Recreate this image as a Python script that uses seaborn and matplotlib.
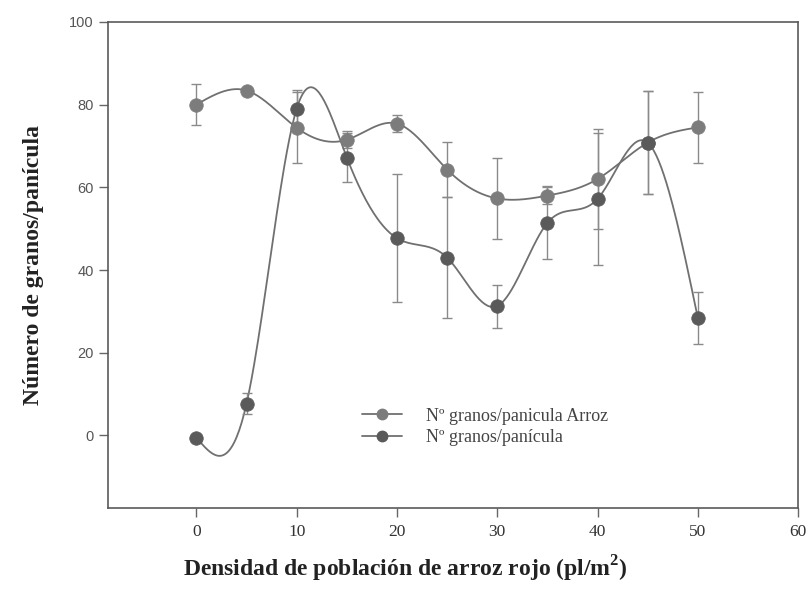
import numpy as np
import pandas as pd
import matplotlib
matplotlib.use("Agg")
import matplotlib.pyplot as plt
from matplotlib.lines import Line2D
import seaborn as sns

# ---- data ----
densidad = [0, 5, 10, 15, 20, 25, 30, 35, 40, 45, 50]
arroz_vals = [80.0, 83.4, 74.4, 71.5, 75.4, 64.3, 57.3, 58.0, 62.0, 70.8, 74.5]
arroz_err = [5.0, 0.0, 8.6, 2.0, 2.0, 6.7, 9.8, 2.0, 12.0, 12.4, 8.6]
panicula_vals = [-0.5, 7.7, 79.0, 67.2, 47.7, 43.0, 31.3, 51.4, 57.2, 70.8, 28.4]
panicula_err = [0.0, 2.5, 4.6, 6.0, 15.5, 14.6, 5.2, 8.8, 16.0, 12.4, 6.4]
label_arroz = "Nº granos/panicula Arroz"
label_panicula = "Nº granos/panícula"
xticks = [0, 10, 20, 30, 40, 50, 60]
yticks = [0, 20, 40, 60, 80, 100]


def natural_spline(x, y, n=400):
    x = np.asarray(x, float)
    y = np.asarray(y, float)
    m = len(x)
    h = np.diff(x)
    A = np.zeros((m, m))
    b = np.zeros(m)
    A[0, 0] = A[-1, -1] = 1
    for i in range(1, m - 1):
        A[i, i - 1] = h[i - 1]
        A[i, i] = 2 * (h[i - 1] + h[i])
        A[i, i + 1] = h[i]
        b[i] = 3 * ((y[i + 1] - y[i]) / h[i] - (y[i] - y[i - 1]) / h[i - 1])
    c = np.linalg.solve(A, b)
    xs = np.linspace(x[0], x[-1], n)
    idx = np.clip(np.searchsorted(x, xs) - 1, 0, m - 2)
    bb = (y[1:] - y[:-1]) / h - h * (2 * c[:-1] + c[1:]) / 3
    d = (c[1:] - c[:-1]) / (3 * h)
    t = xs - x[idx]
    ys = y[idx] + bb[idx] * t + c[idx] * t ** 2 + d[idx] * t ** 3
    return xs, ys


sns.set_style("ticks")
plt.rcParams["font.family"] = ["Liberation Serif", "DejaVu Serif"]
plt.rcParams["mathtext.fontset"] = "custom"
plt.rcParams["mathtext.rm"] = "Liberation Serif"
plt.rcParams["mathtext.bf"] = "Liberation Serif:bold"

fig = plt.figure(figsize=(8.07, 5.91), dpi=100)
ax = fig.add_axes([0.134, 0.140, 0.855, 0.823])

series = [
    (label_arroz, arroz_vals, arroz_err, "#7c7c7c"),
    (label_panicula, panicula_vals, panicula_err, "#5a5a5a"),
]
line_col = "#707070"
handles = []
for lab, vals, err, col in series:
    xs, ys = natural_spline(densidad, vals)
    sns.lineplot(x=xs, y=ys, ax=ax, color=line_col, lw=1.3, sort=False)
    ax.errorbar(densidad, vals, yerr=err, fmt="none", ecolor="#8a8a8a",
                elinewidth=1.0, capsize=3.5, capthick=1.0, zorder=2)
    df = pd.DataFrame({"x": densidad, "y": vals})
    sns.scatterplot(data=df, x="x", y="y", ax=ax, color=col, s=95,
                    edgecolor=col, linewidth=0.5, zorder=3)
    handles.append(Line2D([0], [0], color=line_col, lw=1.3, marker="o",
                          markersize=7.5, markerfacecolor=col, markeredgecolor=col))

ax.set_xlim(-8.8, 60)
ax.set_ylim(-17.6, 100)
ax.set_xticks(xticks)
ax.set_yticks(yticks)
ax.tick_params(axis="both", direction="out", length=6.5, width=1, color="#666666")
ax.tick_params(axis="x", labelsize=12.5, labelcolor="#333333", pad=5)
ax.tick_params(axis="y", labelsize=10.5, labelcolor="#555555", pad=4)
for t in ax.get_yticklabels():
    t.set_fontfamily(["Liberation Sans", "DejaVu Sans"])
for sp in ax.spines.values():
    sp.set_visible(True)
    sp.set_color("#5a5a5a")
    sp.set_linewidth(1.2)

ax.set_xlabel("Densidad de población de arroz rojo (pl/m$^{\\mathbf{2}}$)",
              fontsize=17, fontweight="bold", color="#222222", labelpad=10, x=0.43)
ax.set_ylabel("Número de granos/panícula", fontsize=17, fontweight="bold",
              color="#222222", labelpad=18)

ax.legend(handles, [label_arroz, label_panicula], loc="upper left",
          bbox_to_anchor=(0.345, 0.24), frameon=False, fontsize=13,
          handlelength=2.2, labelspacing=0.25, handletextpad=1.3,
          labelcolor="#444444")

fig.savefig("out.png", dpi=100)
